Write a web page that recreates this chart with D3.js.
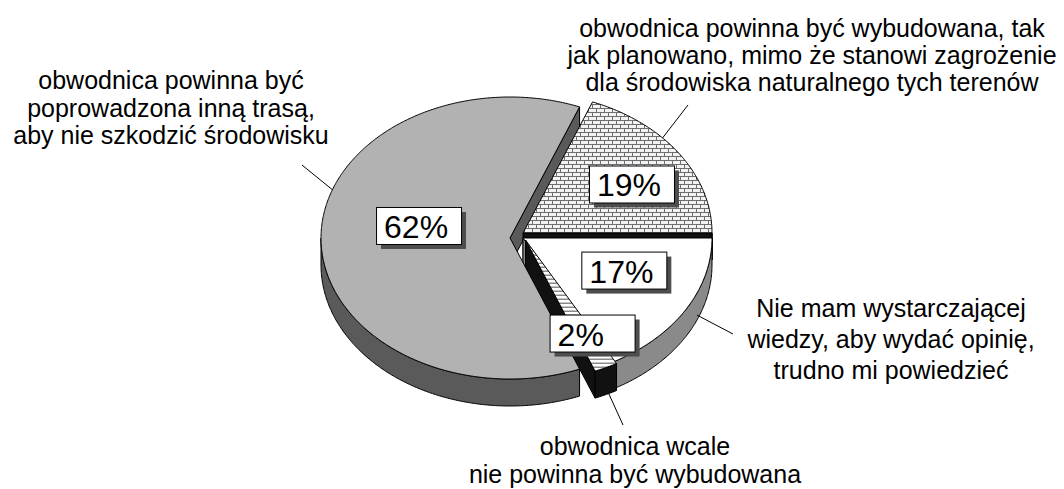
<!DOCTYPE html>
<html><head><meta charset="utf-8">
<script src="https://cdn.jsdelivr.net/npm/d3@7"></script>
<style>html,body{margin:0;padding:0;background:#fff;} svg{display:block;font-family:"Liberation Sans",Arial,sans-serif;}</style>
</head><body><svg id="c" width="1064" height="489"></svg>
<script>
// ---- data ----
const categories = [
  "obwodnica powinna być poprowadzona inną trasą, aby nie szkodzić środowisku",
  "obwodnica powinna być wybudowana, tak jak planowano, mimo że stanowi zagrożenie dla środowiska naturalnego tych terenów",
  "Nie mam wystarczającej wiedzy, aby wydać opinię, trudno mi powiedzieć",
  "obwodnica wcale nie powinna być wybudowana"
];
const categoryLines = [
  ["obwodnica powinna być", "poprowadzona inną trasą,", "aby nie szkodzić środowisku"],
  ["obwodnica powinna być wybudowana, tak", "jak planowano, mimo że stanowi zagrożenie", "dla środowiska naturalnego tych terenów"],
  ["Nie mam wystarczającej", "wiedzy, aby wydać opinię,", "trudno mi powiedzieć"],
  ["obwodnica wcale", "nie powinna być wybudowana"]
];
const values = [62, 19, 17, 2];
const valueLabels = ["62%", "19%", "17%", "2%"];

// ---- layout / style ----
const cx = 513, cy = 238, rx = 189, ry = 141, depth = 27;
const startDeg = 158.4;
const explode = [[-3, 0], [10, -5], [10, 0], [12.5, 2]];
const topFill = ["#b2b2b2", "url(#brick)", "#ffffff", "url(#stripes)"];
const sideFill = ["#5a5a5a", "#111111", "#8a8a8a", "#111111"];
const boxPolar = [[280.4, 0.492], [58.8, 0.671], [113.1, 0.58], [151.9, 0.748]];
const boxW = 85, boxH = 37;
const textPos = [[171, 89, 27.5], [812, 37, 27], [891, 317, 31], [635, 455, 27.5]];
const leaders = [[290, 0, 302, 165], [47.6, 0, 688, 105], [113, 22, 733, 334], [154, 26, 623, 425]];

const svg = d3.select("#c");
svg.append("rect").attr("width", 1064).attr("height", 489).attr("fill", "#fff");
const defs = svg.append("defs");
const pb = defs.append("pattern").attr("id", "brick").attr("width", 8).attr("height", 8).attr("patternUnits", "userSpaceOnUse");
pb.append("rect").attr("width", 8).attr("height", 8).attr("fill", "#f2f2f2");
pb.append("path").attr("d", "M0,0.5H8M0,4.5H8M0.5,0.5V4.5M4.5,4.5V8").attr("stroke", "#6e6e6e").attr("stroke-width", 1).attr("fill", "none");
const ps = defs.append("pattern").attr("id", "stripes").attr("width", 8).attr("height", 4).attr("patternUnits", "userSpaceOnUse");
ps.append("rect").attr("width", 8).attr("height", 4).attr("fill", "#fff");
ps.append("rect").attr("y", 2.5).attr("width", 8).attr("height", 1.5).attr("fill", "#8a8a8a");

const rad = Math.PI / 180;
const pie = d3.pie().sort(null).value(d => d)
  .startAngle(startDeg * rad).endAngle(startDeg * rad + 2 * Math.PI);
const arcs = pie(values);
const sx = d3.scaleLinear().domain([-1, 1]).range([-rx, rx]);
const sy = d3.scaleLinear().domain([-1, 1]).range([ry, -ry]);
function pt(i, a, r = 1, z = 0) {
  const o = explode[i];
  return [cx + o[0] + sx(r * Math.sin(a)), cy + o[1] + sy(r * Math.cos(a)) + z];
}
function arcPts(i, a0, a1, z) {
  const n = Math.max(2, Math.ceil(Math.abs(a1 - a0) / (0.5 * rad)));
  return d3.range(n + 1).map(k => pt(i, a0 + (a1 - a0) * k / n, 1, z));
}
const line = d3.line();
const gFaces = svg.append("g").attr("stroke", "#000").attr("stroke-width", 1).attr("stroke-linejoin", "round");

// radial faces
arcs.forEach((d, i) => {
  const edges = [];
  if (Math.sin(d.startAngle) < -1e-6) edges.push(d.startAngle);
  if (Math.sin(d.endAngle) > 1e-6) edges.push(d.endAngle);
  edges.forEach(a => {
    const p = [pt(i, 0, 0, 0), pt(i, a, 1, 0), pt(i, a, 1, depth), pt(i, 0, 0, depth)];
    gFaces.append("path").attr("d", line(p) + "Z").attr("fill", sideFill[i]);
  });
});

// outer walls (front-facing portion)
const walls = [];
arcs.forEach((d, i) => {
  for (let k = -1; k <= 1; k++) {
    const lo = Math.PI / 2 + 2 * Math.PI * k, hi = 3 * Math.PI / 2 + 2 * Math.PI * k;
    const a0 = Math.max(d.startAngle, lo), a1 = Math.min(d.endAngle, hi);
    if (a1 > a0) walls.push({ i, a0, a1, depthKey: pt(i, (a0 + a1) / 2, 1, 0)[1] });
  }
});
walls.sort((a, b) => a.depthKey - b.depthKey).forEach(w => {
  const p = arcPts(w.i, w.a0, w.a1, 0).concat(arcPts(w.i, w.a1, w.a0, depth));
  gFaces.append("path").attr("d", line(p) + "Z").attr("fill", sideFill[w.i]);
});

// top faces
arcs.forEach((d, i) => {
  const p = [pt(i, 0, 0, 0)].concat(arcPts(i, d.startAngle, d.endAngle, 0));
  gFaces.append("path").attr("d", line(p) + "Z").attr("fill", topFill[i]);
});

// value label boxes
arcs.forEach((d, i) => {
  const c = pt(i, boxPolar[i][0] * rad, boxPolar[i][1], 0);
  const x = c[0] - boxW / 2, y = c[1] - boxH / 2;
  svg.append("rect").attr("x", x + 5).attr("y", y + 5).attr("width", boxW).attr("height", boxH).attr("fill", "#4d4d4d");
  svg.append("rect").attr("x", x + 0.5).attr("y", y + 0.5).attr("width", boxW).attr("height", boxH).attr("fill", "#fff").attr("stroke", "#000");
  svg.append("text").attr("x", x + 8).attr("y", y + 31).attr("font-size", 32).attr("fill", "#000").text(valueLabels[i]);
});

// leader lines
arcs.forEach((d, i) => {
  const L = leaders[i];
  const s = pt(i, L[0] * rad, 1, L[1]);
  svg.append("line").attr("x1", s[0]).attr("y1", s[1]).attr("x2", L[2]).attr("y2", L[3]).attr("stroke", "#000").attr("stroke-width", 1);
});

// category labels
categoryLines.forEach((lines, i) => {
  const t = svg.append("text").attr("text-anchor", "middle").attr("font-size", 25).attr("fill", "#000");
  lines.forEach((s, k) => t.append("tspan").attr("x", textPos[i][0]).attr("y", textPos[i][1] + k * textPos[i][2]).text(s));
});
</script></body></html>
